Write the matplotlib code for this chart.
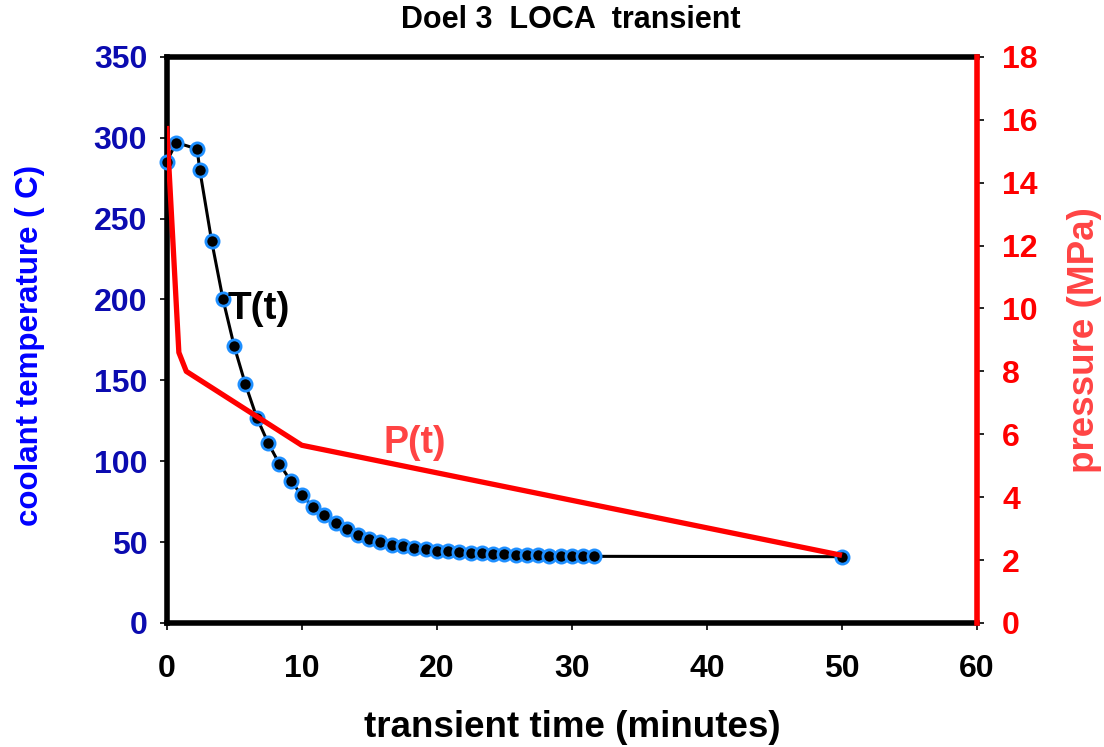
import matplotlib
matplotlib.use("Agg")
from matplotlib import pyplot as plt

plt.rcParams['font.family'] = ['Liberation Sans', 'DejaVu Sans']
plt.rcParams['font.weight'] = 'bold'

# coolant temperature T(t)
time_T = [0, 0.7, 2.25, 2.45, 3.33, 4.17, 5.0, 5.83, 6.67, 7.5, 8.33, 9.17,
          10.0, 10.83, 11.67, 12.5, 13.33, 14.17, 15.0, 15.83, 16.67, 17.5,
          18.33, 19.17, 20.0, 20.83, 21.67, 22.5, 23.33, 24.17, 25.0, 25.83,
          26.67, 27.5, 28.33, 29.17, 30.0, 30.83, 31.67, 50]
temp = [285, 297, 293, 280, 236, 200, 171, 147.5, 127, 111.5, 98.5, 88,
        79, 72, 66.5, 62, 58, 54.5, 52, 50, 48.5, 47.3,
        46.3, 45.5, 44.8, 44.2, 43.7, 43.3, 43.0, 42.7, 42.4, 42.2,
        42.0, 41.8, 41.6, 41.5, 41.4, 41.3, 41.2, 41]

# pressure P(t)
time_P = [0, 0.6, 0.9, 1.45, 10, 50]
press = [15.8, 11.0, 8.6, 8.0, 5.65, 2.15]

x_ticks = [0, 10, 20, 30, 40, 50, 60]
t_ticks = [0, 50, 100, 150, 200, 250, 300, 350]
p_ticks = [0, 2, 4, 6, 8, 10, 12, 14, 16, 18]

fig = plt.figure(figsize=(11.04, 7.47), dpi=100)
ax = fig.add_axes([0.151, 0.166, 0.734, 0.758])

ax.plot(time_T, temp, color='black', lw=2.2, marker='o', ms=9.5,
        mfc='black', mec='#1e8fff', mew=2, clip_on=False, zorder=3)
ax.set_xlim(0, 60)
ax.set_ylim(0, 350)
ax.set_xticks(x_ticks)
ax.set_yticks(t_ticks)
ax.tick_params(axis='x', labelsize=23, colors='black', direction='out',
               length=5, width=1.2, pad=17)
ax.tick_params(axis='y', labelsize=23, labelcolor='#0b0bb0', color='black',
               direction='out', length=5, width=1.2, pad=9)
for lab in ax.get_xticklabels() + ax.get_yticklabels():
    lab.set_fontweight('bold')
ax.set_xlabel('transient time (minutes)', fontsize=26.5, fontweight='bold',
              va='center')
ax.xaxis.set_label_coords(0.5, -0.184)
ax.set_ylabel('coolant temperature ( C)', fontsize=22.5, fontweight='bold',
              color='#0000ff', va='center', ha='center')
ax.yaxis.set_label_coords(-0.169, 0.49)
for s in ['top', 'left', 'bottom']:
    ax.spines[s].set_linewidth(4)
    ax.spines[s].set_color('black')
ax.spines['right'].set_visible(False)

ax2 = ax.twinx()
ax2.plot(time_P, press, color='#ff0000', lw=3.8, solid_capstyle='butt',
         zorder=4)
ax2.set_ylim(0, 18)
ax2.set_yticks(p_ticks)
ax2.tick_params(axis='y', labelsize=23, labelcolor='#ff0000', color='black',
                direction='out', length=5, width=1.2, pad=13)
for lab in ax2.get_yticklabels():
    lab.set_fontweight('bold')
ax2.set_ylabel('pressure (MPa)', fontsize=26.5, fontweight='bold',
               color='#ff4444', va='center', ha='center')
ax2.yaxis.set_label_coords(1.133, 0.5)
for s in ['top', 'left', 'bottom']:
    ax2.spines[s].set_visible(False)
ax2.spines['right'].set_linewidth(4)
ax2.spines['right'].set_color('#ff0000')

ax.text(4.5, 194, 'T(t)', fontsize=28, fontweight='bold', color='black',
        va='center', ha='left')
ax2.text(18.4, 5.72, 'P(t)', fontsize=27, fontweight='bold', color='#ff4444',
         va='center', ha='center')

fig.text(0.517, 0.973, 'Doel 3  LOCA  transient', fontsize=22,
         fontweight='bold', ha='center', va='center')

fig.savefig('out.png', dpi=100)
